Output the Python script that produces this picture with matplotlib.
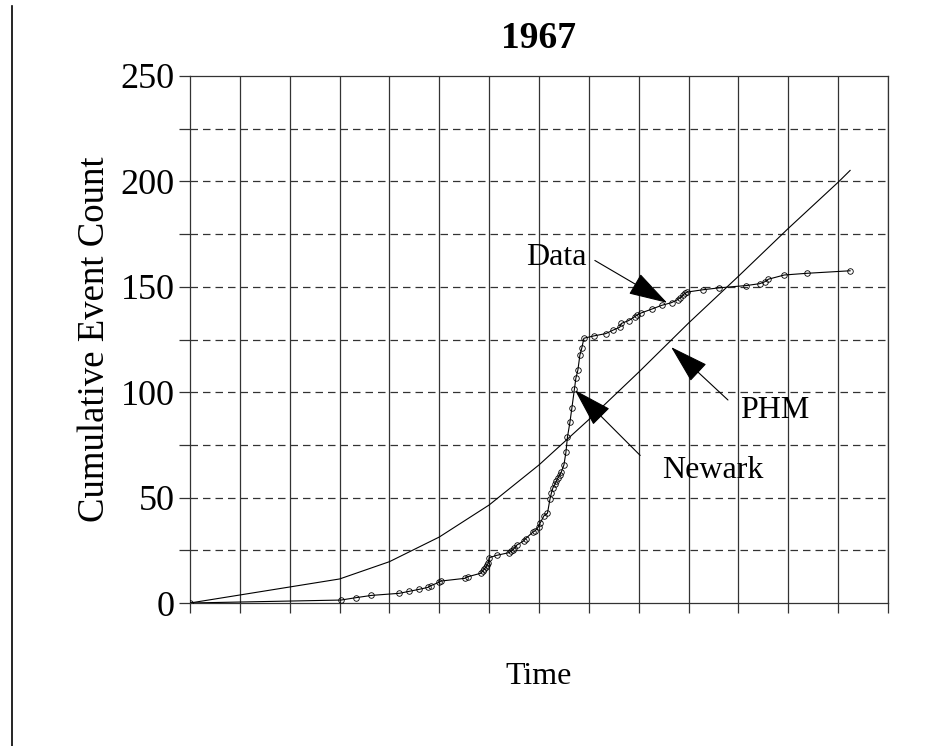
import matplotlib
matplotlib.use("Agg")
import matplotlib.pyplot as plt
from matplotlib.lines import Line2D
from matplotlib.patches import FancyArrowPatch

plt.rcParams['font.family'] = ['Liberation Serif', 'DejaVu Serif']

# Observed cumulative event counts (time in grid units)
data_time = [0, 3.03, 3.32, 3.64, 4.20, 4.39, 4.60, 4.77, 4.83, 4.99, 5.03,
             5.51, 5.58, 5.83, 5.87, 5.90, 5.93, 5.96, 5.98, 6.00, 6.15,
             6.40, 6.43, 6.47, 6.50, 6.55, 6.69, 6.73, 6.87, 6.92, 6.99,
             7.02, 7.10, 7.17, 7.22, 7.25, 7.28, 7.32, 7.35, 7.38, 7.42,
             7.45, 7.50, 7.54, 7.57, 7.62, 7.66, 7.71, 7.74, 7.78, 7.82,
             7.86, 7.90, 8.10, 8.34, 8.49, 8.62, 8.65, 8.80, 8.92, 8.97,
             9.05, 9.26, 9.46, 9.66, 9.78, 9.83, 9.88, 9.93, 9.97, 10.29,
             10.61, 11.16, 11.43, 11.53, 11.60, 11.92, 12.37, 13.24]
data_count = [0, 1.4, 2.5, 3.6, 4.6, 5.5, 6.5, 7.4, 8.2, 9.8, 10.4,
              11.7, 12.5, 14.1, 15.2, 16.0, 16.9, 17.9, 18.8, 21.5, 22.6,
              23.9, 24.5, 25.1, 25.9, 27.4, 29.4, 30.5, 33.5, 34.2, 36.2,
              37.8, 41.4, 42.6, 49.3, 52.3, 54.7, 56.3, 57.9, 59.4, 60.7,
              62.3, 65.5, 71.5, 78.6, 85.7, 92.6, 101.4, 106.7, 110.5, 117.6,
              121.1, 125.6, 126.7, 127.8, 129.5, 130.8, 132.6, 134.0, 135.8, 136.7,
              137.6, 139.4, 141.2, 142.5, 143.9, 144.8, 146.0, 146.9, 147.5, 148.6,
              149.5, 150.6, 151.5, 152.4, 153.6, 155.6, 156.4, 157.6]

# PHM model curve
phm_time = [0, 3, 4, 5, 6, 7, 8, 9, 10, 11, 12, 13, 13.24]
phm_count = [0, 11.4, 19.6, 31.3, 46.5, 65.5, 87, 109.5, 132.8, 155, 177.7, 199.6, 205.2]

y_major = [0, 50, 100, 150, 200, 250]
y_labels = ["0", "50", "100", "150", "200", "250"]

fig = plt.figure(figsize=(9.29, 7.46), dpi=100)
ax = fig.add_axes([190/929, 143/746, 698/929, 527/746])

ax.set_xlim(0, 14)
ax.set_ylim(0, 250)

# grid: solid verticals, dashed horizontals
for xv in range(1, 15):
    ax.axvline(xv, color='#333333', lw=0.9, zorder=1)
for yv in range(25, 250, 25):
    ax.axhline(yv, color='#333333', lw=0.9, ls=(0, (6, 4)), zorder=1)

ax.plot(phm_time, phm_count, color='black', lw=0.8, zorder=3)
ax.plot(data_time, data_count, color='black', lw=0.8, marker='o', ms=4.0,
        mfc='none', mec='black', mew=0.6, zorder=4)

ax.set_yticks(y_major)
ax.set_yticklabels(y_labels)
ax.set_yticks(range(25, 250, 50), minor=True)
ax.set_xticks(range(0, 15))
ax.set_xticklabels([])
ax.tick_params(axis='y', which='both', direction='out', length=8, width=0.9,
               labelsize=26, pad=3, color='#333333')
ax.tick_params(axis='x', which='both', direction='out', length=7, width=0.9,
               color='#333333')
for s in ax.spines.values():
    s.set_linewidth(0.9)
    s.set_color('#333333')

ax.set_title("1967", fontsize=27, fontweight='bold', pad=20)
ax.set_xlabel("Time", fontsize=23, labelpad=32)
ax.set_ylabel("Cumulative Event Count", fontsize=26.5, labelpad=6)


def pointer(text, xy_text, xy_tail, xy_tip):
    ax.text(xy_text[0], xy_text[1], text, fontsize=23, ha='center', va='center',
            zorder=6)
    arr = FancyArrowPatch(xy_tail, xy_tip, arrowstyle='-|>,head_length=25,head_width=7.5',
                          mutation_scale=1, color='black', lw=0.8, zorder=6,
                          shrinkA=0, shrinkB=0)
    ax.add_patch(arr)


pointer("Data", (7.34, 164.0), (8.12, 162.5), (9.57, 142.4))
pointer("PHM", (11.72, 91.5), (10.79, 96.3), (9.65, 121.4))
pointer("Newark", (10.49, 63.0), (9.03, 70.0), (7.72, 101.0))

# page border on the left
fig.add_artist(Line2D([12/929, 12/929], [0, 740/746], color='black', lw=1.2))

fig.savefig("out.png", dpi=100)
